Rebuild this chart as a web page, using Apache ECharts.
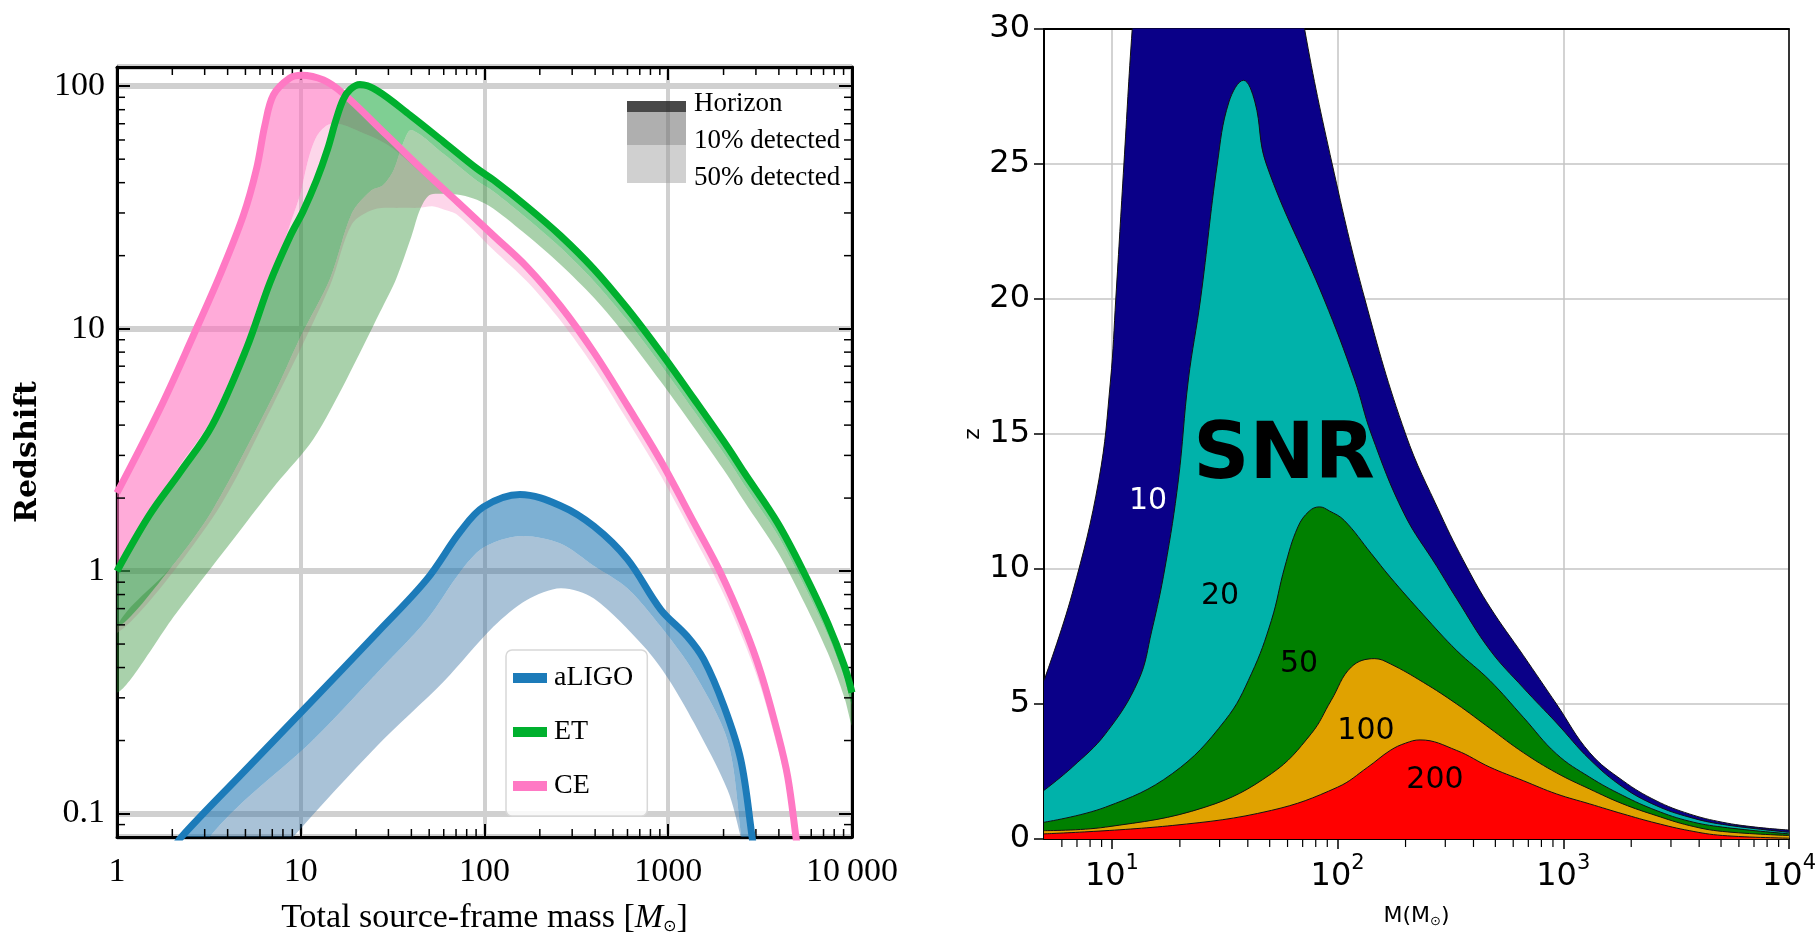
<!DOCTYPE html>
<html>
<head>
<meta charset="utf-8">
<title>Horizon redshift and SNR contours</title>
<script src="https://cdn.jsdelivr.net/npm/echarts@6.0.0/dist/echarts.min.js"></script>
<style>
  html, body { margin: 0; padding: 0; background: #fff; }
  #main { width: 1819px; height: 943px; }
</style>
</head>
<body>
<div id="main"></div>
<script>
"use strict"
// ---- left panel: [total source-frame mass, redshift] ----
var ceHorizon = [[1,2.1],[1.71,4.66],[2.6,9.35],[3.63,16.6],[4.87,29.3],[5.75,45.7],[6.38,69],[7.1,92],[8.7,108],[10.1,111],[13.3,106],[17.1,93],[29.5,62.6],[45,46],[71,33.4],[112,24.2],[171,17.9],[259,12.4],[394,7.98],[599,4.81],[910,2.85],[1383,1.58],[1932,0.98],[2588,0.59],[3192,0.38],[3936,0.215],[4466,0.142],[4955,0.08],[5200,0.06]];
var ceTen = [[1,1.0],[2.11,2.6],[3.2,4.1],[4.87,8.3],[6.53,14],[8.7,26.6],[9.9,35.5],[11,50],[12.2,62],[13.9,69],[16,70],[20,66],[30,57],[45,44],[71,32],[112,23.1],[171,17.1],[259,11.8],[394,7.6],[599,4.6],[910,2.72],[1383,1.51],[1932,0.935],[2588,0.56],[3192,0.36],[3936,0.205],[4466,0.135],[4955,0.076],[5200,0.057]];
var ceFifty = [[1,0.555],[3.3,1.65],[7.1,4.9],[14.4,15],[19,27],[25,31],[35,31.5],[44,31.5],[52,32],[60,31],[71,29.5],[112,21.1],[171,15.6],[259,10.8],[394,6.95],[599,4.19],[910,2.48],[1383,1.38],[1932,0.85],[2588,0.51],[3192,0.33],[3936,0.187],[4466,0.124],[4955,0.07],[5200,0.052]];

var etHorizon = [[1,1.0],[1.5,1.7],[2.2,2.55],[3.3,4.0],[5.07,8.3],[6.8,15.5],[8.74,24],[10.3,30.5],[12.2,41],[14,55],[15.5,72],[17,88],[18.6,97],[21,101.6],[26,96],[39.4,75.9],[60,58.9],[91,45.7],[112,41.0],[171,31.8],[259,24.2],[394,17.6],[599,12.1],[910,7.98],[1383,5.12],[2103,3.25],[2588,2.55],[3936,1.58],[5500,0.98],[7380,0.61],[9100,0.405],[10000,0.315]];
var etTen = [[1,0.59],[2,1.05],[3.33,1.8],[7.1,5.3],[10,9.3],[14.4,16],[19,30],[24,37],[28,39],[32,45],[36,58],[40,66],[60,52.5],[91,40.7],[112,36.8],[171,28.4],[259,21.6],[394,15.7],[599,10.8],[910,7.1],[1383,4.56],[2103,2.9],[2588,2.27],[3936,1.41],[5500,0.87],[7380,0.545],[9100,0.36],[10000,0.28]];
var etFifty = [[1,0.315],[2.1,0.67],[4.87,1.53],[7.4,2.3],[11.7,3.5],[17.8,6.2],[27,11.7],[33,16],[40,24],[44.6,31],[50,35.5],[60,36],[75,35.5],[91,34],[112,31.2],[171,24.2],[259,18.4],[394,13.4],[599,9.2],[910,6.05],[1383,3.9],[2103,2.48],[2588,1.94],[3936,1.2],[5500,0.74],[7380,0.46],[9100,0.3],[10000,0.23]];

var aligoHorizon = [[2.0,0.07],[2.24,0.08],[4.87,0.148],[11.2,0.285],[26,0.556],[48.5,0.924],[73.6,1.45],[98.7,1.84],[156,2.07],[259,1.86],[394,1.53],[599,1.12],[910,0.694],[1265,0.539],[1560,0.432],[2010,0.277],[2480,0.167],[2860,0.08],[2950,0.065]];
var aligoTen = [[2.8,0.065],[3.2,0.08],[4.87,0.112],[11.2,0.195],[26,0.38],[48.5,0.63],[73.6,0.99],[98.7,1.25],[156,1.395],[259,1.3],[394,1.05],[599,0.85],[910,0.59],[1383,0.38],[2103,0.2],[2500,0.08],[2560,0.065]];
var aligoFifty = [[8.2,0.07],[9.1,0.08],[26,0.19],[60,0.35],[112,0.59],[170,0.76],[260,0.85],[394,0.77],[735,0.49],[1000,0.36],[1383,0.236],[2103,0.125],[2480,0.08],[2550,0.07]];

// ---- right panel: SNR contours, [M, z] ----
var snr10 = [[5,5.87],[6.67,9.09],[8.75,13.3],[9.86,17],[10.4,20],[11.3,25],[12.3,30],[14,36],[20,42],[35,42],[55,36],[71.4,30],[94.6,25],[132,20],[200,15],[285,12.05],[374,10.07],[473,8.59],[665,6.8],[933,5.0],[1309,3.2],[1837,2.16],[2576,1.42],[3615,0.93],[5078,0.62],[7125,0.44],[10000,0.33]];
var snr20 = [[5,1.8],[6.67,2.66],[9.37,3.9],[13.1,5.87],[15,7.7],[17.2,10.07],[19.7,13.3],[21.8,17],[24.7,20],[29.3,25],[33,27.3],[38.3,28.1],[43,27.3],[48.3,25],[87,20],[119,17],[141,15],[197,12.05],[275,10.1],[337,8.9],[473,7.0],[665,5.6],[933,4.3],[1309,2.95],[1837,1.92],[2576,1.24],[3615,0.81],[5078,0.54],[10000,0.25]];
var snr50 = [[5,0.62],[9.37,1.18],[18.5,2.42],[31.7,4.39],[41.5,6.12],[50.9,8.1],[58.3,10.07],[66.7,11.56],[75,12.15],[83.2,12.3],[92,12.15],[107,11.8],[141,10.57],[171,9.7],[240,8.3],[337,6.98],[473,5.87],[665,4.51],[933,3.15],[1309,2.29],[1837,1.61],[2576,1.06],[3615,0.66],[5078,0.44],[10000,0.19]];
var snr100 = [[5,0.31],[9.37,0.44],[25.9,1.18],[50.9,2.42],[76.4,3.9],[93.6,5.13],[115,6.37],[146,6.68],[171,6.49],[240,5.8],[337,5.0],[473,4.1],[665,3.2],[933,2.45],[1309,1.85],[1837,1.3],[2576,0.87],[3615,0.5],[5078,0.28],[10000,0.13]];
var snr200 = [[5,0.19],[18.5,0.5],[50.9,1.06],[100,1.92],[136,2.66],[171,3.28],[200,3.55],[232,3.67],[337,3.28],[473,2.66],[665,2.16],[933,1.67],[1309,1.3],[1837,0.93],[2576,0.59],[3615,0.31],[5078,0.13],[10000,0.03]];

var myChart = echarts.init(document.getElementById('main'));
var serif = 'Liberation Serif';
var sans = 'DejaVu Sans';

// filled region between two curves
function band(name, upper, lower, fill) {
  return {
    name: name,
    type: 'custom',
    xAxisIndex: 0,
    yAxisIndex: 0,
    clip: true,
    silent: true,
    data: [[1, 1]],
    renderItem: function (params, api) {
      var pts = [];
      upper.forEach(function (p) { pts.push(api.coord(p)); });
      lower.slice().reverse().forEach(function (p) { pts.push(api.coord(p)); });
      return {
        type: 'polygon',
        shape: { points: pts, smooth: 0.3 },
        style: { fill: fill }
      };
    }
  };
}

function horizon(name, data, color) {
  return {
    name: name,
    type: 'line',
    xAxisIndex: 0,
    yAxisIndex: 0,
    data: data,
    smooth: 0.35,
    symbol: 'none',
    color: color,
    itemStyle: { color: color },
    lineStyle: { width: 7, color: color },
    silent: true
  };
}

function snrArea(name, data, color) {
  return {
    name: name,
    type: 'line',
    xAxisIndex: 2,
    yAxisIndex: 2,
    data: data,
    smooth: 0.4,
    symbol: 'none',
    lineStyle: { width: 1, color: '#111' },
    areaStyle: { color: color, opacity: 1 },
    silent: true
  };
}

function seg(x1, y1, x2, y2, w) {
  return { type: 'line', shape: { x1: x1, y1: y1, x2: x2, y2: y2 }, style: { stroke: '#000', lineWidth: w } };
}

// minor log ticks 2..9 per decade
function minorValues(lo, hi) {
  var out = [];
  for (var e = -3; e <= 4; e++) {
    for (var m = 2; m <= 9; m++) {
      var v = m * Math.pow(10, e);
      if (v > lo * 1.0001 && v < hi * 0.9999) out.push(v);
    }
  }
  return out;
}

var leftMinorX = minorValues(1, 10000);
var leftMinorY = minorValues(0.08, 120);
var rightMinorX = minorValues(5, 10000);

var leftMinor = {
  type: 'custom', xAxisIndex: 0, yAxisIndex: 0, silent: true, data: [[1, 1]],
  renderItem: function (params, api) {
    var cs = params.coordSys;
    var kids = [];
    leftMinorX.forEach(function (v) {
      var x = api.coord([v, 1])[0];
      kids.push(seg(x, cs.y + cs.height, x, cs.y + cs.height - 8, 1.5));
      kids.push(seg(x, cs.y, x, cs.y + 8, 1.5));
    });
    leftMinorY.forEach(function (v) {
      var y = api.coord([1, v])[1];
      kids.push(seg(cs.x, y, cs.x + 8, y, 1.5));
      kids.push(seg(cs.x + cs.width, y, cs.x + cs.width - 8, y, 1.5));
    });
    return { type: 'group', children: kids };
  }
};

var rightMinor = {
  type: 'custom', xAxisIndex: 2, yAxisIndex: 2, silent: true, data: [[10, 1]],
  renderItem: function (params, api) {
    var cs = params.coordSys;
    var kids = [];
    rightMinorX.forEach(function (v) {
      var x = api.coord([v, 1])[0];
      kids.push(seg(x, cs.y + cs.height, x, cs.y + cs.height + 8, 1.2));
    });
    return { type: 'group', children: kids };
  }
};

var boxAxis = { show: true, onZero: false, lineStyle: { color: '#000', width: 3 } };
var majorTick = { show: true, inside: true, length: 13, lineStyle: { color: '#000', width: 2 } };

function label(x, y, text, size, color, weight) {
  return {
    type: 'text', x: x, y: y, z: 100,
    style: { text: text, fontFamily: sans, fontSize: size, fontWeight: weight || 'normal', fill: color, align: 'center', verticalAlign: 'middle' }
  };
}

var option = {
  animation: false,
  backgroundColor: '#fff',
  grid: [
    { left: 117, top: 67, width: 735, height: 770 },
    { left: 1044, top: 29, width: 749, height: 810 }
  ],
  legend: {
    data: ['aLIGO', 'ET', 'CE'],
    orient: 'vertical',
    left: 506,
    top: 650,
    padding: [14, 14, 16, 7],
    itemGap: 26,
    itemWidth: 34,
    itemHeight: 10,
    icon: 'rect',
    backgroundColor: 'rgba(255,255,255,0.85)',
    borderColor: '#d8d8d8',
    borderWidth: 1.5,
    borderRadius: 6,
    textStyle: { fontFamily: serif, fontSize: 28, color: '#000', padding: [0, 0, 0, 2] }
  },
  xAxis: [
    {
      type: 'log', gridIndex: 0, min: 1, max: 10000, position: 'bottom',
      axisLine: boxAxis, axisTick: majorTick,
      axisLabel: {
        fontFamily: serif, fontSize: 34, color: '#000', margin: 18,
        formatter: function (v) { var r = Math.round(v); return r === 10000 ? '10\u2009000' : String(r); }
      },
      splitLine: { show: true, lineStyle: { color: '#d0d0d0', width: 4 } },
      name: '{n|Total source-frame mass [}{i|M}{s|\u2299}{n|]}',
      nameLocation: 'middle', nameGap: 64,
      nameTextStyle: {
        rich: {
          n: { fontFamily: serif, fontSize: 34, color: '#000' },
          i: { fontFamily: serif, fontSize: 34, fontStyle: 'italic', color: '#000' },
          s: { fontFamily: 'DejaVu Sans', fontSize: 16, color: '#000', verticalAlign: 'bottom', padding: [14, 0, 0, 0] }
        }
      }
    },
    {
      type: 'log', gridIndex: 0, min: 1, max: 10000, position: 'top',
      axisLine: boxAxis, axisTick: majorTick, axisLabel: { show: false }, splitLine: { show: false }
    },
    {
      type: 'log', gridIndex: 1, min: 5, max: 10000, position: 'bottom',
      axisLine: { show: true, onZero: false, lineStyle: { color: '#000', width: 2 } },
      axisTick: { show: true, inside: false, length: 10, lineStyle: { color: '#000', width: 1.5 } },
      axisLabel: {
        showMinLabel: false, margin: 14,
        formatter: function (v) {
          var e = Math.round(Math.log(v) / Math.LN10);
          return '{b|10}{s|' + e + '}';
        },
        rich: {
          b: { fontFamily: sans, fontSize: 32, color: '#000', lineHeight: 40, verticalAlign: 'bottom' },
          s: { fontFamily: sans, fontSize: 21, color: '#000', verticalAlign: 'top', lineHeight: 40 }
        }
      },
      splitLine: { show: true, lineStyle: { color: '#c4c4c4', width: 1.5 } },
      name: '{a|M(M}{s|\u2299}{a|)}',
      nameLocation: 'middle', nameGap: 66,
      nameTextStyle: {
        rich: {
          a: { fontFamily: sans, fontSize: 22, color: '#000' },
          s: { fontFamily: sans, fontSize: 13, color: '#000', verticalAlign: 'bottom', padding: [10, 0, 0, 0] }
        }
      }
    },
    {
      type: 'log', gridIndex: 1, min: 5, max: 10000, position: 'top',
      axisLine: { show: true, onZero: false, lineStyle: { color: '#000', width: 2 } },
      axisTick: { show: false }, axisLabel: { show: false }, splitLine: { show: false }
    }
  ],
  yAxis: [
    {
      type: 'log', gridIndex: 0, min: 0.08, max: 120, position: 'left',
      axisLine: boxAxis, axisTick: majorTick,
      axisLabel: {
        fontFamily: serif, fontSize: 34, color: '#000', margin: 12,
        showMinLabel: false, showMaxLabel: false,
        formatter: function (v) { return v < 0.5 ? '0.1' : String(Math.round(v)); }
      },
      splitLine: { show: true, lineStyle: { color: '#d0d0d0', width: 6 } },
      name: 'Redshift', nameLocation: 'middle', nameGap: 74, nameRotate: 90,
      nameTextStyle: { fontFamily: 'DejaVu Serif', fontWeight: 'bold', fontSize: 30, color: '#000' }
    },
    {
      type: 'log', gridIndex: 0, min: 0.08, max: 120, position: 'right',
      axisLine: boxAxis, axisTick: majorTick, axisLabel: { show: false }, splitLine: { show: false }
    },
    {
      type: 'value', gridIndex: 1, min: 0, max: 30, interval: 5, position: 'left',
      axisLine: { show: true, onZero: false, lineStyle: { color: '#000', width: 2 } },
      axisTick: { show: true, inside: false, length: 10, lineStyle: { color: '#000', width: 1.5 } },
      axisLabel: { fontFamily: sans, fontSize: 32, color: '#000', margin: 14 },
      splitLine: { show: true, lineStyle: { color: '#c4c4c4', width: 1.5 } },
      name: 'z', nameLocation: 'middle', nameGap: 60, nameRotate: 90,
      nameTextStyle: { fontFamily: sans, fontSize: 22, color: '#000' }
    },
    {
      type: 'value', gridIndex: 1, min: 0, max: 30, position: 'right',
      axisLine: { show: true, onZero: false, lineStyle: { color: '#000', width: 1.5 } },
      axisTick: { show: false }, axisLabel: { show: false }, splitLine: { show: false }
    }
  ],
  series: [
    band('CE 10%', ceHorizon, ceTen, 'rgba(255,110,190,0.58)'),
    band('CE 50%', ceTen, ceFifty, 'rgba(250,120,185,0.30)'),
    horizon('CE', ceHorizon, '#ff79c4'),
    band('ET 10%', etHorizon, etTen, 'rgba(0,160,40,0.5)'),
    band('ET 50%', etTen, etFifty, 'rgba(40,140,45,0.4)'),
    horizon('ET', etHorizon, '#00b02e'),
    band('aLIGO 10%', aligoHorizon, aligoTen, 'rgba(31,119,180,0.58)'),
    band('aLIGO 50%', aligoTen, aligoFifty, 'rgba(50,110,160,0.42)'),
    horizon('aLIGO', aligoHorizon, '#1c7bb9'),
    leftMinor,
    snrArea('10', snr10, '#0a0088'),
    snrArea('20', snr20, '#00b2aa'),
    snrArea('50', snr50, '#008000'),
    snrArea('100', snr100, '#e0a200'),
    snrArea('200', snr200, '#ff0000'),
    rightMinor
  ],
  graphic: [
    { type: 'rect', z: 100, shape: { x: 627, y: 101, width: 59, height: 11 }, style: { fill: 'rgba(40,40,40,0.85)' } },
    { type: 'rect', z: 100, shape: { x: 627, y: 112, width: 59, height: 33 }, style: { fill: 'rgba(110,110,110,0.55)' } },
    { type: 'rect', z: 100, shape: { x: 627, y: 145, width: 59, height: 38 }, style: { fill: 'rgba(150,150,150,0.45)' } },
    { type: 'text', z: 100, x: 694, y: 104, style: { text: 'Horizon', fontFamily: serif, fontSize: 27, fill: '#000', verticalAlign: 'middle' } },
    { type: 'text', z: 100, x: 694, y: 141, style: { text: '10% detected', fontFamily: serif, fontSize: 27, fill: '#000', verticalAlign: 'middle' } },
    { type: 'text', z: 100, x: 694, y: 178, style: { text: '50% detected', fontFamily: serif, fontSize: 27, fill: '#000', verticalAlign: 'middle' } },
    label(1284, 458, 'SNR', 78, '#000', 'bold'),
    label(1148, 501, '10', 30, '#fff'),
    label(1220, 596, '20', 30, '#000'),
    label(1299, 664, '50', 30, '#000'),
    label(1366, 731, '100', 30, '#000'),
    label(1435, 780, '200', 30, '#000')
  ]
};

if (option && typeof option === "object") {
  myChart.setOption(option, true);
}
</script>
</body>
</html>
